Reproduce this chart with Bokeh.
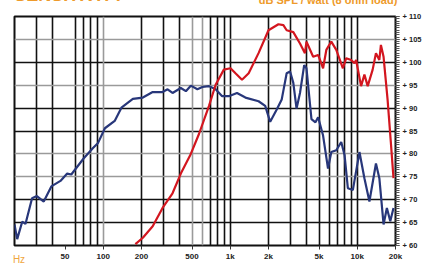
from bokeh.plotting import figure
from bokeh.models import FixedTicker, Grid, LogAxis, ColumnDataSource
from bokeh.embed import file_html
from bokeh.resources import INLINE

# ---- data ----
blue_freq = [20, 21, 23, 24.4, 27.5, 30, 34, 39, 46, 52, 56, 70, 83, 91, 103, 123, 139,
             171, 205, 245, 293, 321, 351, 408, 447, 489, 551, 603, 680, 767, 863, 974,
             1130, 1316, 1670, 1884, 2062, 2322, 2542, 2780, 2958, 3136, 3326, 3540, 3820,
             3982, 4358, 4686, 4918, 5380, 5884, 6246, 6836, 7478, 7946, 8434, 9226, 10404,
             11384, 12464, 14032, 14922, 16108, 17106, 18192, 19288]
blue_db = [64.6, 61.4, 65.2, 64.7, 70.3, 70.8, 69.6, 72.9, 74.1, 75.7, 75.5, 79.0, 81.3,
           82.4, 85.6, 87.2, 90.1, 92.0, 92.3, 93.5, 93.5, 94.1, 93.3, 94.4, 93.7, 94.9,
           94.1, 94.6, 94.8, 94.1, 92.6, 92.6, 93.3, 92.3, 91.5, 90.5, 87.0, 89.7, 91.9,
           97.6, 98.0, 95.5, 89.9, 93.3, 99.4, 98.7, 87.6, 86.9, 88.0, 84.0, 76.8, 80.4,
           80.8, 82.6, 79.7, 72.5, 72.1, 80.4, 74.7, 69.6, 77.9, 74.7, 64.6, 68.2, 65.3, 68.2]

red_freq = [179, 205, 245, 293, 351, 408, 489, 568, 680, 767, 890, 1004, 1099, 1237, 1396,
            1670, 2000, 2394, 2620, 2780, 3136, 3540, 3872, 3982, 4496, 4918, 5380, 5706,
            6246, 6836, 7708, 8182, 8952, 9512, 9794, 10716, 11384, 12082, 13220, 14032,
            14922, 15352, 16108, 17320, 18374, 19288]
red_db = [60.3, 61.7, 64.2, 68.2, 71.4, 75.7, 80.0, 84.4, 90.5, 95.1, 98.4, 98.7, 97.6,
          96.2, 97.6, 102.0, 107.0, 108.3, 108.1, 107.0, 106.6, 104.1, 102.0, 104.5, 101.2,
          101.6, 98.7, 102.7, 104.5, 102.7, 98.7, 100.9, 100.5, 99.8, 100.5, 94.8, 97.3,
          94.8, 98.4, 102.0, 100.5, 103.8, 101.2, 91.9, 82.6, 74.7]

x_tick_values = [50, 100, 200, 500, 1000, 2000, 5000, 10000, 20000]
x_tick_labels = ["50", "100", "200", "500", "1k", "2k", "5k", "10k", "20k"]
y_tick_values = [60, 65, 70, 75, 80, 85, 90, 95, 100, 105, 110]

grid_dark_x = [30, 40, 60, 70, 80, 90, 200, 300, 400, 700, 800, 900, 1000,
               2000, 3000, 4000, 5000, 6000, 7000, 8000, 9000, 10000]
grid_light_x = [100, 500, 600]
grid_dark_y = [65, 70, 85, 90, 100]
grid_light_y = [75, 80, 95, 105]

title_text = "SENSITIVITY"
unit_text = "dB SPL / watt (8 ohm load)"
x_unit_text = "Hz"

ORANGE = "#ee9a2a"
LIGHT_ORANGE = "#f0a63e"
SHIFT = 20  # part of the canvas hidden above the page top (header is cut off there)

p = figure(width=424, height=267 + SHIFT, x_axis_type="log", x_range=(20, 20000),
           y_range=(60, 110), y_axis_location="right", output_backend="svg",
           toolbar_location=None, min_border_left=14, min_border_right=26,
           min_border_top=16 + SHIFT, min_border_bottom=19)
p.styles = {"margin-top": f"-{SHIFT}px"}
p.background_fill_color = "white"
p.border_fill_color = "white"
p.outline_line_color = "#111111"
p.outline_line_width = 2
p.outline_line_alpha = 1

# grids
p.xgrid.ticker = FixedTicker(ticks=grid_dark_x)
p.xgrid.grid_line_color = "#111111"
p.xgrid.grid_line_width = 1.6
p.xgrid.grid_line_alpha = 1
p.ygrid.ticker = FixedTicker(ticks=grid_dark_y)
p.ygrid.grid_line_color = "#111111"
p.ygrid.grid_line_width = 1.6
p.ygrid.grid_line_alpha = 1
p.add_layout(Grid(dimension=0, ticker=FixedTicker(ticks=grid_light_x),
                  grid_line_color="#9a9a9a", grid_line_width=1.6))
p.add_layout(Grid(dimension=1, ticker=FixedTicker(ticks=grid_light_y),
                  grid_line_color="#9a9a9a", grid_line_width=1.6))


def text_axis(tick, label, size, style, color, standoff):
    return LogAxis(ticker=FixedTicker(ticks=[tick], minor_ticks=[]),
                   major_label_overrides={tick: label},
                   major_label_text_font="Liberation Sans",
                   major_label_text_font_style=style,
                   major_label_text_font_size=size, major_label_text_color=color,
                   major_label_standoff=standoff, major_tick_in=0, major_tick_out=0,
                   minor_tick_in=0, minor_tick_out=0, axis_line_color=None)


# bottom axis
xa = p.xaxis[0]
xa.ticker = FixedTicker(ticks=x_tick_values, minor_ticks=[])
xa.major_label_overrides = {v: l for v, l in zip(x_tick_values, x_tick_labels)}
xa.major_label_text_font = "Liberation Sans"
xa.major_label_text_font_style = "bold"
xa.major_label_text_font_size = "8px"
xa.major_label_text_color = "#222222"
xa.major_label_standoff = 2
xa.major_tick_in = 0
xa.major_tick_out = 4
xa.major_tick_line_color = "#333333"
xa.axis_line_color = None

# "Hz" on the same row as the frequency labels (outer axis pulled back in)
p.add_layout(text_axis(21.7, x_unit_text, "10px", "normal", LIGHT_ORANGE, -10), "below")

# header texts, mostly cut off at the page top
p.add_layout(text_axis(5900, unit_text, "11px", "bold", ORANGE, 11), "above")
p.add_layout(text_axis(54, title_text, "18px", "bold", ORANGE, -14), "above")

# right axis: ruler ticks + labels
ya = p.yaxis[0]
minor = [60 + 0.5 * i for i in range(101)]
ya.ticker = FixedTicker(ticks=y_tick_values, minor_ticks=minor)
ya.major_label_overrides = {v: f"+ {v}" for v in y_tick_values}
ya.major_label_text_font = "Liberation Sans"
ya.major_label_text_font_style = "bold"
ya.major_label_text_font_size = "7.5px"
ya.major_label_text_color = "#222222"
ya.major_label_standoff = 3
ya.major_tick_in = 0
ya.major_tick_out = 4
ya.minor_tick_in = 0
ya.minor_tick_out = 4
ya.major_tick_line_color = "#444444"
ya.minor_tick_line_color = "#555555"
ya.axis_line_color = None

blue_src = ColumnDataSource(dict(f=blue_freq, db=blue_db))
red_src = ColumnDataSource(dict(f=red_freq, db=red_db))
p.line("f", "db", source=blue_src, line_color="#28377a", line_width=2.2)
p.line("f", "db", source=red_src, line_color="#d3161f", line_width=2.2)

open("out.html", "w").write(file_html(p, INLINE))
